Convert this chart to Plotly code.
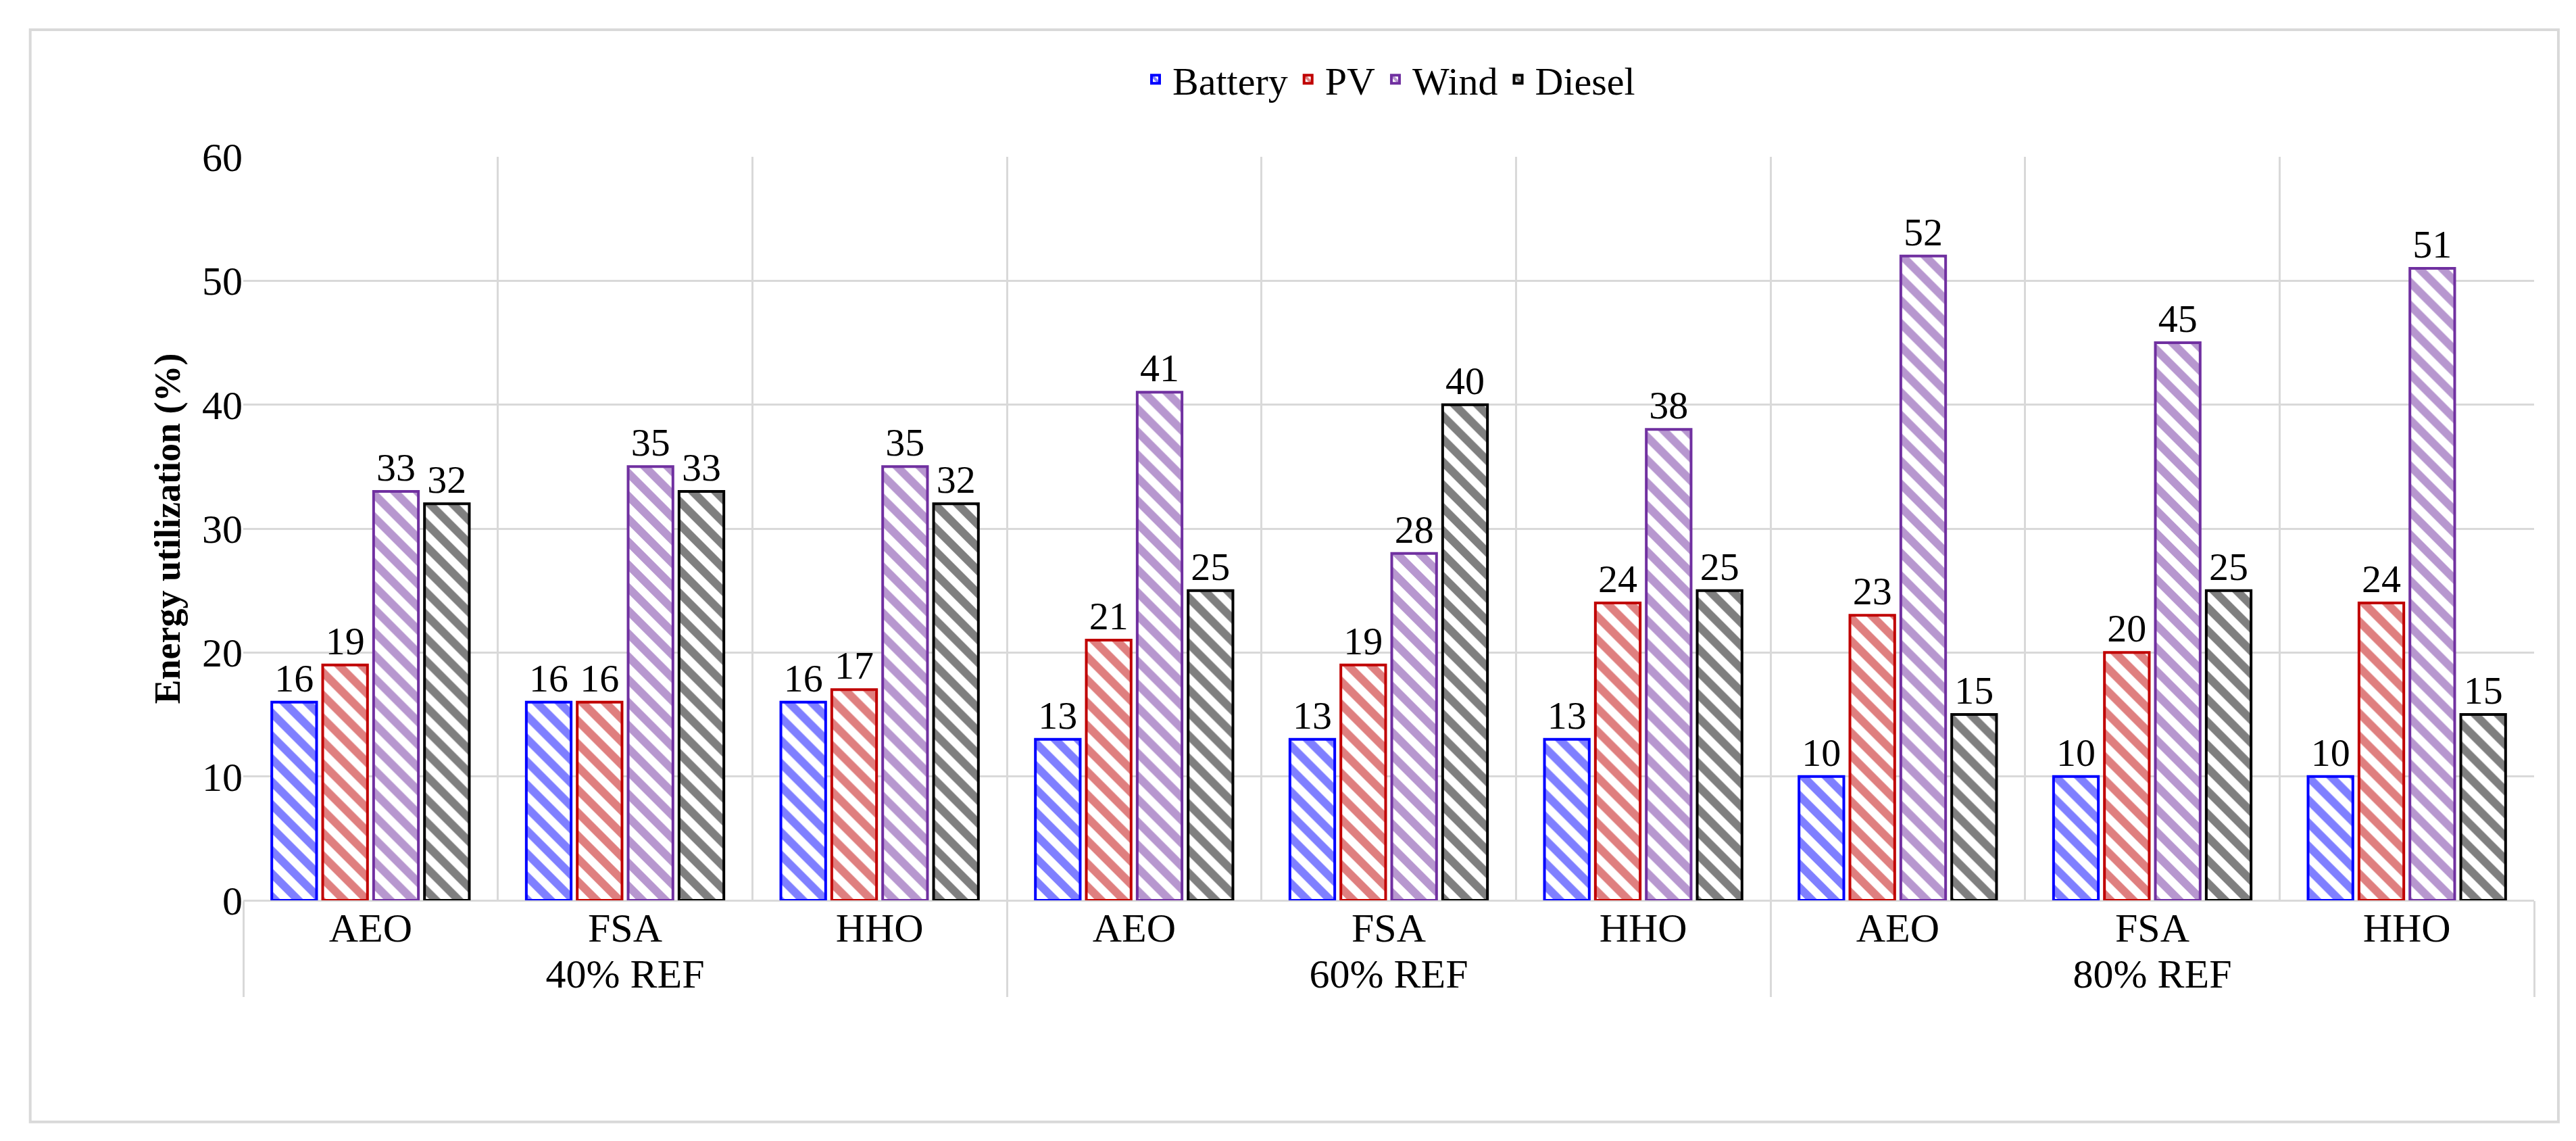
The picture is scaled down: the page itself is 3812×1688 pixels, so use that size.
import plotly.graph_objects as go

groups = ["40% REF"]*3 + ["60% REF"]*3 + ["80% REF"]*3
methods = ["AEO", "FSA", "HHO"]*3
battery = [16, 16, 16, 13, 13, 13, 10, 10, 10]
pv = [19, 16, 17, 21, 19, 24, 23, 20, 24]
wind = [33, 35, 35, 41, 28, 38, 52, 45, 51]
diesel = [32, 33, 32, 25, 40, 25, 15, 25, 15]
series = [("Battery", battery, "#0000FF"), ("PV", pv, "#C00000"),
          ("Wind", wind, "#7030A0"), ("Diesel", diesel, "#000000")]

FONT = "Liberation Serif"
fig = go.Figure()
for name, vals, col in series:
    fig.add_trace(go.Bar(
        x=[groups, methods], y=vals, name=name,
        marker=dict(color="white", line=dict(color=col, width=4),
                    pattern=dict(shape="\\", fgcolor=col, bgcolor="white",
                                 size=24, solidity=0.5)),
        text=[str(v) for v in vals], textposition="outside",
        textfont=dict(family=FONT, size=58, color="black"),
        cliponaxis=False))

fig.update_layout(
    width=3812, height=1688, barmode="group", bargap=0.2, bargroupgap=0.12,
    plot_bgcolor="white", paper_bgcolor="white",
    margin=dict(l=352, r=70, t=224, b=364, autoexpand=False),
    font=dict(family=FONT, size=58, color="black"),
    legend=dict(orientation="h", x=0.5, xanchor="center", y=1.104, yanchor="middle",
                font=dict(size=58), itemwidth=40, bgcolor="rgba(0,0,0,0)"),
    yaxis=dict(range=[0, 60], dtick=10, showgrid=True, gridcolor="#D9D9D9", gridwidth=3,
               zeroline=True, zerolinecolor="#D9D9D9", zerolinewidth=3,
               title=dict(text="<b>Energy utilization (%)</b>", font=dict(size=54)),
               tickfont=dict(size=60), automargin=False),
    xaxis=dict(tickson="boundaries", showgrid=True, gridcolor="#D9D9D9", gridwidth=3,
               showdividers=True, dividercolor="#D9D9D9", dividerwidth=3,
               tickfont=dict(size=60), ticklen=0, automargin=False),
    shapes=[dict(type="rect", xref="paper", yref="paper", x0=-0.093, x1=1.0106,
                 y0=-0.298, y1=1.171, line=dict(color="#D9D9D9", width=4))],
)
fig.write_html("out.html")
